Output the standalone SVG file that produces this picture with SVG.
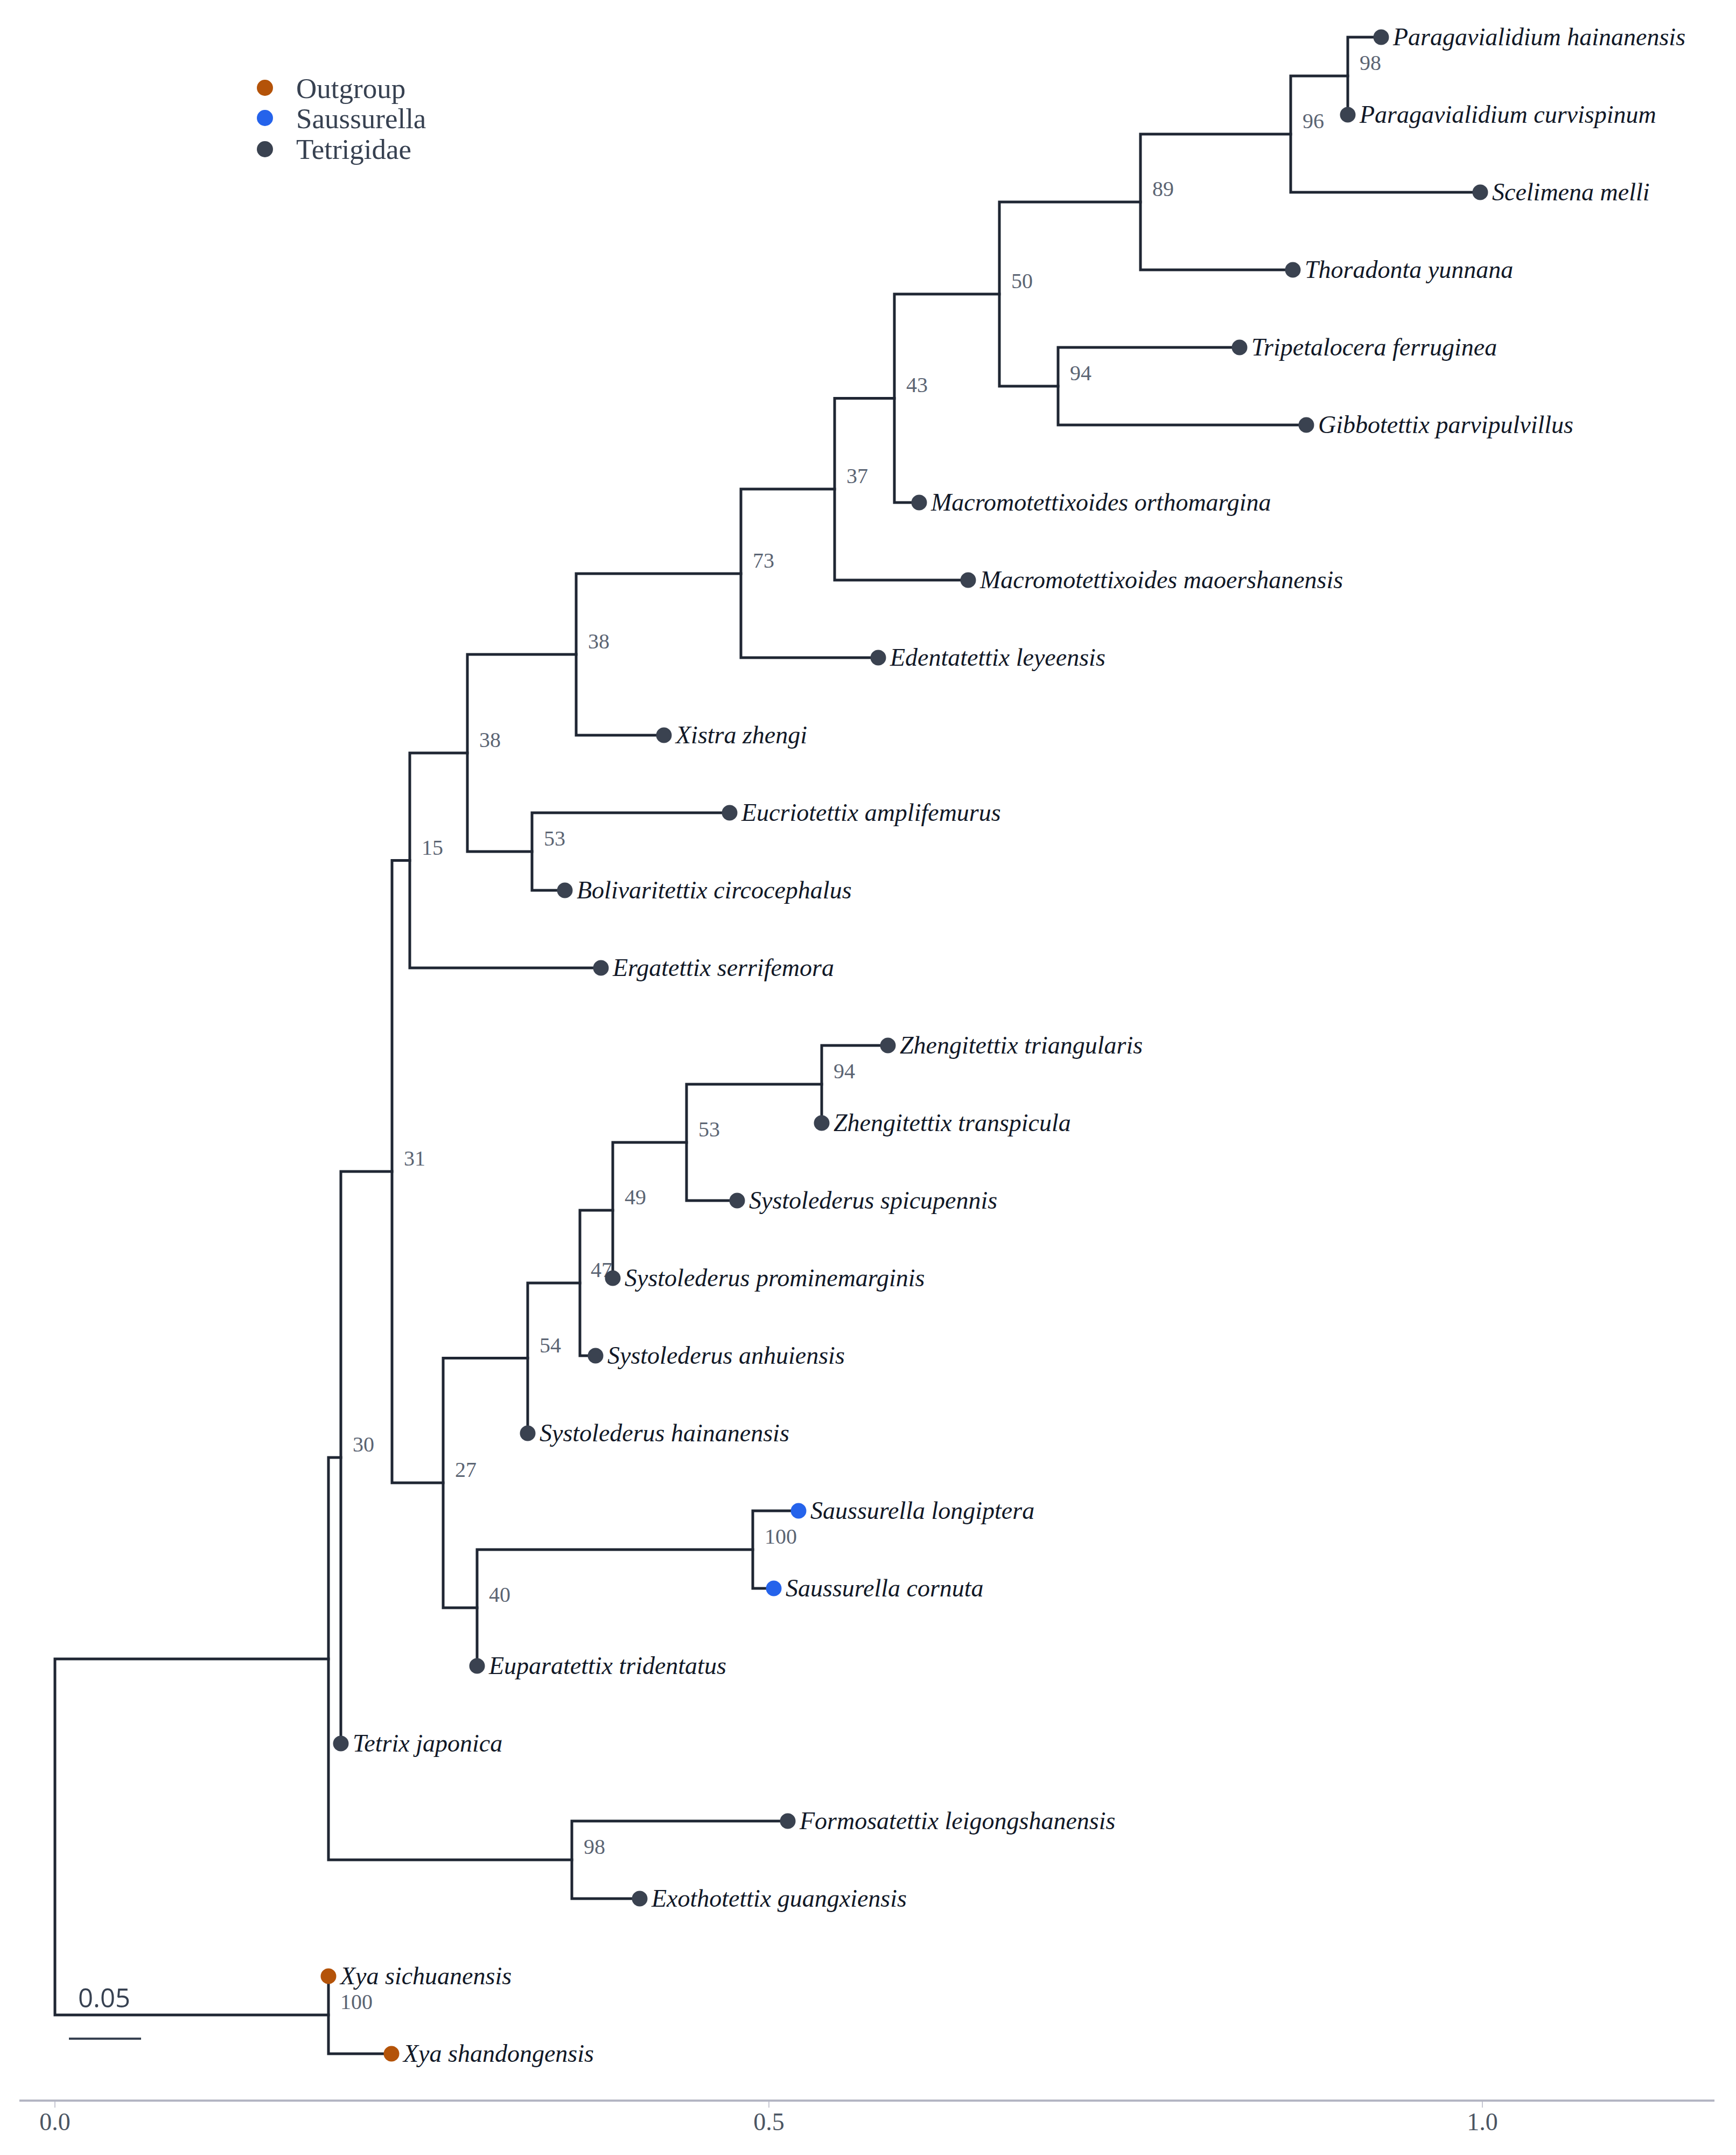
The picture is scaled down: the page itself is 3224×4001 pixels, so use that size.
<svg xmlns="http://www.w3.org/2000/svg" width="3224" height="4001" viewBox="0 0 3224 4001">
<style>
.br{fill:none;stroke:#1f2633;stroke-width:5;stroke-linejoin:miter;stroke-linecap:square}
.lf{font-family:"Liberation Serif","Times New Roman",serif;font-style:italic;font-size:46px;fill:#111827}
.sp{font-family:"Liberation Serif","Times New Roman",serif;font-size:40px;fill:#5b6473}
.tg{fill:#3a4250}
.og{fill:#b45309}
.sa{fill:#2563eb}
.lg{font-family:"Liberation Serif","Times New Roman",serif;font-size:53px;fill:#374151}
.ax{font-family:"Liberation Serif","Times New Roman",serif;font-size:46px;fill:#4b5563;text-anchor:middle}
</style>
<rect width="3224" height="4001" fill="#ffffff"/>
<g id="legend">
<circle cx="492" cy="163" r="15" class="og"/><text x="550" y="182" class="lg">Outgroup</text>
<circle cx="492" cy="219" r="15" class="sa"/><text x="550" y="238" class="lg">Saussurella</text>
<circle cx="492" cy="277" r="15" class="tg"/><text x="550" y="295" class="lg">Tetrigidae</text>
</g>
<g id="connectors">
<path class="br" d="M2565 69H2503V213"/>
<path class="br" d="M2503 141H2397V357H2749"/>
<path class="br" d="M2397 249H2118V501H2401"/>
<path class="br" d="M2302 645H1965V789H2426"/>
<path class="br" d="M2118 375H1856V717H1965"/>
<path class="br" d="M1856 546H1661V933H1707"/>
<path class="br" d="M1661 739.5H1550V1077H1798"/>
<path class="br" d="M1550 908H1376V1221H1631"/>
<path class="br" d="M1376 1065H1070V1365H1233"/>
<path class="br" d="M1355 1509H988V1653H1049"/>
<path class="br" d="M1070 1215H868V1581H988"/>
<path class="br" d="M868 1398H761V1797H1116"/>
<path class="br" d="M1649 1941H1526V2085"/>
<path class="br" d="M1526 2013H1275V2229H1369"/>
<path class="br" d="M1275 2121H1138V2373"/>
<path class="br" d="M1138 2247H1077V2517H1106"/>
<path class="br" d="M1077 2382H980V2661"/>
<path class="br" d="M1483 2805H1398V2949H1437"/>
<path class="br" d="M1398 2877H886V3093"/>
<path class="br" d="M980 2521.5H823V2985H886"/>
<path class="br" d="M761 1597.5H728V2753H823"/>
<path class="br" d="M728 2175H633V3237"/>
<path class="br" d="M1463 3381H1062V3525H1188"/>
<path class="br" d="M633 2706H610V3453H1062"/>
<path class="br" d="M610 3669V3813H727"/>
<path class="br" d="M610 3080H102V3741H610"/>
</g>
<g id="support-labels">
<text id="n98a" class="sp" x="2525" y="130">98</text>
<text id="n96" class="sp" x="2419" y="238">96</text>
<text id="n89" class="sp" x="2140" y="364">89</text>
<text id="n94a" class="sp" x="1987" y="706">94</text>
<text id="n50" class="sp" x="1878" y="535">50</text>
<text id="n43" class="sp" x="1683" y="728">43</text>
<text id="n37" class="sp" x="1572" y="897">37</text>
<text id="n73" class="sp" x="1398" y="1054">73</text>
<text id="n38a" class="sp" x="1092" y="1204">38</text>
<text id="n53a" class="sp" x="1010" y="1570">53</text>
<text id="n38b" class="sp" x="890" y="1387">38</text>
<text id="n15" class="sp" x="783" y="1587">15</text>
<text id="n94b" class="sp" x="1548" y="2002">94</text>
<text id="n53b" class="sp" x="1297" y="2110">53</text>
<text id="n49" class="sp" x="1160" y="2236">49</text>
<text id="n47" class="sp" x="1097" y="2371">47</text>
<text id="n54" class="sp" x="1002" y="2511">54</text>
<text id="n100a" class="sp" x="1420" y="2866">100</text>
<text id="n40" class="sp" x="908" y="2974">40</text>
<text id="n27" class="sp" x="845" y="2742">27</text>
<text id="n31" class="sp" x="750" y="2164">31</text>
<text id="n30" class="sp" x="655" y="2695">30</text>
<text id="n98b" class="sp" x="1084" y="3442">98</text>
<text id="n100b" class="sp" x="632" y="3730">100</text>
</g>
<g id="leaf-paragavialidium-hainanensis"><circle cx="2565" cy="69" r="14.5" class="tg"/><text class="lf" x="2587" y="84">Paragavialidium hainanensis</text></g>
<g id="leaf-paragavialidium-curvispinum"><circle cx="2503" cy="213" r="14.5" class="tg"/><text class="lf" x="2525" y="228">Paragavialidium curvispinum</text></g>
<g id="leaf-scelimena-melli"><circle cx="2749" cy="357" r="14.5" class="tg"/><text class="lf" x="2771" y="372">Scelimena melli</text></g>
<g id="leaf-thoradonta-yunnana"><circle cx="2401" cy="501" r="14.5" class="tg"/><text class="lf" x="2423" y="516">Thoradonta yunnana</text></g>
<g id="leaf-tripetalocera-ferruginea"><circle cx="2302" cy="645" r="14.5" class="tg"/><text class="lf" x="2324" y="660">Tripetalocera ferruginea</text></g>
<g id="leaf-gibbotettix-parvipulvillus"><circle cx="2426" cy="789" r="14.5" class="tg"/><text class="lf" x="2448" y="804">Gibbotettix parvipulvillus</text></g>
<g id="leaf-macromotettixoides-orthomargina"><circle cx="1707" cy="933" r="14.5" class="tg"/><text class="lf" x="1729" y="948">Macromotettixoides orthomargina</text></g>
<g id="leaf-macromotettixoides-maoershanensis"><circle cx="1798" cy="1077" r="14.5" class="tg"/><text class="lf" x="1820" y="1092">Macromotettixoides maoershanensis</text></g>
<g id="leaf-edentatettix-leyeensis"><circle cx="1631" cy="1221" r="14.5" class="tg"/><text class="lf" x="1653" y="1236">Edentatettix leyeensis</text></g>
<g id="leaf-xistra-zhengi"><circle cx="1233" cy="1365" r="14.5" class="tg"/><text class="lf" x="1255" y="1380">Xistra zhengi</text></g>
<g id="leaf-eucriotettix-amplifemurus"><circle cx="1355" cy="1509" r="14.5" class="tg"/><text class="lf" x="1377" y="1524">Eucriotettix amplifemurus</text></g>
<g id="leaf-bolivaritettix-circocephalus"><circle cx="1049" cy="1653" r="14.5" class="tg"/><text class="lf" x="1071" y="1668">Bolivaritettix circocephalus</text></g>
<g id="leaf-ergatettix-serrifemora"><circle cx="1116" cy="1797" r="14.5" class="tg"/><text class="lf" x="1138" y="1812">Ergatettix serrifemora</text></g>
<g id="leaf-zhengitettix-triangularis"><circle cx="1649" cy="1941" r="14.5" class="tg"/><text class="lf" x="1671" y="1956">Zhengitettix triangularis</text></g>
<g id="leaf-zhengitettix-transpicula"><circle cx="1526" cy="2085" r="14.5" class="tg"/><text class="lf" x="1548" y="2100">Zhengitettix transpicula</text></g>
<g id="leaf-systolederus-spicupennis"><circle cx="1369" cy="2229" r="14.5" class="tg"/><text class="lf" x="1391" y="2244">Systolederus spicupennis</text></g>
<g id="leaf-systolederus-prominemarginis"><circle cx="1138" cy="2373" r="14.5" class="tg"/><text class="lf" x="1160" y="2388">Systolederus prominemarginis</text></g>
<g id="leaf-systolederus-anhuiensis"><circle cx="1106" cy="2517" r="14.5" class="tg"/><text class="lf" x="1128" y="2532">Systolederus anhuiensis</text></g>
<g id="leaf-systolederus-hainanensis"><circle cx="980" cy="2661" r="14.5" class="tg"/><text class="lf" x="1002" y="2676">Systolederus hainanensis</text></g>
<g id="leaf-saussurella-longiptera"><circle cx="1483" cy="2805" r="14.5" class="sa"/><text class="lf" x="1505" y="2820">Saussurella longiptera</text></g>
<g id="leaf-saussurella-cornuta"><circle cx="1437" cy="2949" r="14.5" class="sa"/><text class="lf" x="1459" y="2964">Saussurella cornuta</text></g>
<g id="leaf-euparatettix-tridentatus"><circle cx="886" cy="3093" r="14.5" class="tg"/><text class="lf" x="908" y="3108">Euparatettix tridentatus</text></g>
<g id="leaf-tetrix-japonica"><circle cx="633" cy="3237" r="14.5" class="tg"/><text class="lf" x="655" y="3252">Tetrix japonica</text></g>
<g id="leaf-formosatettix-leigongshanensis"><circle cx="1463" cy="3381" r="14.5" class="tg"/><text class="lf" x="1485" y="3396">Formosatettix leigongshanensis</text></g>
<g id="leaf-exothotettix-guangxiensis"><circle cx="1188" cy="3525" r="14.5" class="tg"/><text class="lf" x="1210" y="3540">Exothotettix guangxiensis</text></g>
<g id="leaf-xya-sichuanensis"><circle cx="610" cy="3669" r="14.5" class="og"/><text class="lf" x="632" y="3684">Xya sichuanensis</text></g>
<g id="leaf-xya-shandongensis"><circle cx="727" cy="3813" r="14.5" class="og"/><text class="lf" x="749" y="3828">Xya shandongensis</text></g>
<g id="scale-bar">
<line x1="128" y1="3785" x2="262" y2="3785" stroke="#374151" stroke-width="4"/>
<text x="145" y="3727" font-family="'Open Sans','Liberation Sans',sans-serif" font-size="49" fill="#374151">0.05</text>
</g>
<g id="axis">
<line x1="36" y1="3900" x2="3184" y2="3900" stroke="#b3b5c3" stroke-width="4"/>
<g stroke="#b3b5c3" stroke-width="1.5">
<line x1="102" y1="3902" x2="102" y2="3913"/>
<line x1="1428" y1="3902" x2="1428" y2="3913"/>
<line x1="2753" y1="3902" x2="2753" y2="3913"/>
</g>
<text class="ax" x="102" y="3955">0.0</text>
<text class="ax" x="1428" y="3955">0.5</text>
<text class="ax" x="2753" y="3955">1.0</text>
</g>
</svg>
